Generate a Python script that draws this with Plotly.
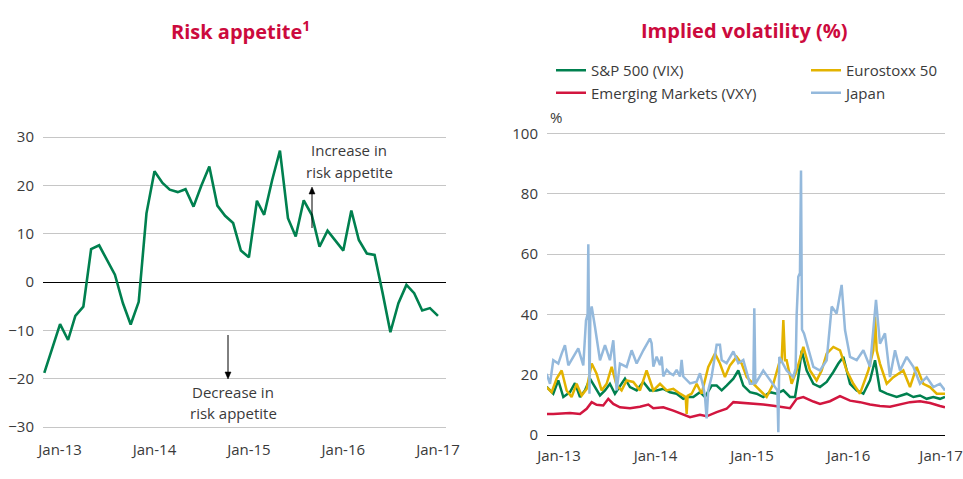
import plotly.graph_objects as go
import pandas as pd

# ---------------- Left chart: risk appetite (monthly) ----------------
risk_start = "2012-11-01"
risk_values = [-18.8, -13.8, -8.7, -12.0, -7.0, -5.1, 6.8, 7.6, 4.7, 1.5, -4.4, -8.8, -4.1,
               14.2, 22.9, 20.5, 19.1, 18.6, 19.2, 15.6, 19.9, 23.9, 15.8, 13.7, 12.2, 6.5,
               5.1, 16.8, 13.9, 21.1, 27.2, 13.2, 9.4, 16.9, 13.9, 7.3, 10.6, 8.7, 6.5, 14.8,
               8.7, 5.9, 5.6, -2.3, -10.4, -4.4, -0.6, -2.3, -5.9, -5.4, -7.0]
risk_dates = pd.date_range(risk_start, periods=len(risk_values), freq="MS")
left_tickvals = ["2013-01-01", "2014-01-01", "2015-01-01", "2016-01-01", "2017-01-01"]
year_ticktext = ["Jan-13", "Jan-14", "Jan-15", "Jan-16", "Jan-17"]
left_yticks = [-30, -20, -10, 0, 10, 20, 30]

# ---------------- Right chart: implied volatility (decimal years) ----------------
vix_x = [2012.872, 2012.941, 2012.993, 2013.045, 2013.114, 2013.166, 2013.218, 2013.269, 2013.321,
         2013.373, 2013.425, 2013.477, 2013.528, 2013.580, 2013.632, 2013.684, 2013.736, 2013.805,
         2013.874, 2013.943, 2014.012, 2014.081, 2014.150, 2014.219, 2014.288, 2014.340, 2014.392,
         2014.461, 2014.513, 2014.582, 2014.634, 2014.686, 2014.737, 2014.807, 2014.858, 2014.910,
         2014.979, 2015.048, 2015.117, 2015.187, 2015.256, 2015.325, 2015.394, 2015.446, 2015.480,
         2015.515, 2015.567, 2015.636, 2015.705, 2015.774, 2015.843, 2015.895, 2015.946, 2016.016,
         2016.085, 2016.154, 2016.223, 2016.275, 2016.326, 2016.396, 2016.499, 2016.603, 2016.672,
         2016.741, 2016.810, 2016.879, 2016.948, 2017.000]
vix_y = [16.0, 13.7, 18.1, 12.6, 14.2, 17.2, 12.6, 14.8, 18.7, 15.9, 13.1, 14.8, 17.0, 13.7, 16.4,
         18.7, 15.9, 14.8, 17.6, 14.8, 14.8, 15.3, 14.2, 13.7, 12.0, 12.6, 12.6, 14.2, 12.6, 16.4,
         16.4, 14.8, 16.4, 18.7, 21.4, 16.4, 14.2, 13.7, 12.6, 14.2, 13.7, 14.8, 12.6, 12.6, 19.2,
         28.0, 21.4, 17.0, 15.9, 17.6, 20.9, 23.7, 25.9, 17.0, 14.8, 13.7, 18.1, 24.8, 14.8, 13.7,
         12.6, 13.7, 12.6, 13.1, 12.0, 12.6, 12.0, 12.6]

em_x = [2012.872, 2012.941, 2013.114, 2013.218, 2013.287, 2013.339, 2013.390, 2013.459, 2013.511,
        2013.563, 2013.632, 2013.736, 2013.839, 2013.926, 2013.978, 2014.081, 2014.185, 2014.288,
        2014.358, 2014.461, 2014.530, 2014.634, 2014.737, 2014.807, 2014.910, 2015.014, 2015.117,
        2015.221, 2015.325, 2015.394, 2015.463, 2015.532, 2015.636, 2015.705, 2015.808, 2015.912,
        2016.016, 2016.119, 2016.223, 2016.326, 2016.430, 2016.534, 2016.637, 2016.741, 2016.845,
        2016.948, 2017.000]
em_y = [7.0, 7.0, 7.3, 7.0, 8.7, 10.9, 10.0, 9.8, 12.0, 10.3, 9.2, 8.9, 9.4, 10.1, 8.9, 9.2, 8.1,
        6.7, 5.9, 6.7, 6.2, 7.6, 8.7, 10.9, 10.7, 10.3, 10.1, 9.7, 9.2, 8.9, 12.0, 12.6, 11.1, 10.3,
        11.2, 12.9, 11.4, 10.9, 10.1, 9.6, 9.4, 10.1, 10.9, 11.2, 10.6, 9.6, 9.2]

stoxx_x = [2012.872, 2012.924, 2012.976, 2013.028, 2013.079, 2013.131, 2013.183, 2013.235, 2013.287,
           2013.339, 2013.390, 2013.442, 2013.494, 2013.546, 2013.598, 2013.649, 2013.701, 2013.770,
           2013.839, 2013.908, 2013.978, 2014.047, 2014.116, 2014.185, 2014.254, 2014.306, 2014.313,
           2014.323, 2014.333, 2014.375, 2014.427, 2014.478, 2014.547, 2014.617, 2014.668, 2014.720,
           2014.772, 2014.841, 2014.893, 2014.945, 2015.014, 2015.083, 2015.152, 2015.221, 2015.290,
           2015.307, 2015.325, 2015.342, 2015.359, 2015.411, 2015.463, 2015.532, 2015.601, 2015.670,
           2015.722, 2015.774, 2015.843, 2015.912, 2015.981, 2016.050, 2016.119, 2016.206, 2016.257,
           2016.275, 2016.292, 2016.326, 2016.396, 2016.465, 2016.568, 2016.637, 2016.706, 2016.775,
           2016.845, 2016.914, 2017.000]
stoxx_y = [15.9, 14.2, 18.7, 21.4, 14.8, 12.6, 17.0, 13.1, 15.3, 23.7, 20.3, 14.8, 17.0, 22.6, 16.4,
           14.8, 18.1, 17.6, 14.8, 21.4, 14.8, 17.0, 14.8, 15.3, 13.7, 12.6, 12.6, 7.0, 13.0, 13.7,
           17.0, 13.7, 22.6, 27.0, 23.7, 19.2, 23.1, 25.9, 23.7, 19.2, 17.0, 14.8, 12.6, 17.0, 24.8,
           24.0, 38.1, 24.8, 24.8, 17.0, 21.4, 29.2, 21.4, 18.1, 21.4, 27.0, 29.2, 28.1, 21.4, 17.0,
           13.7, 21.4, 28.0, 39.2, 28.0, 23.7, 17.0, 19.2, 21.4, 15.9, 22.6, 17.0, 15.9, 13.7, 13.7]

japan_x = [2012.872, 2012.907, 2012.941, 2012.993, 2013.028, 2013.062, 2013.097, 2013.149, 2013.200,
           2013.252, 2013.280, 2013.297, 2013.304, 2013.311, 2013.316, 2013.325, 2013.339, 2013.373,
           2013.425, 2013.477, 2013.528, 2013.563, 2013.598, 2013.632, 2013.701, 2013.753, 2013.805,
           2013.874, 2013.943, 2013.960, 2013.978, 2014.012, 2014.047, 2014.064, 2014.081, 2014.116,
           2014.150, 2014.185, 2014.219, 2014.254, 2014.271, 2014.288, 2014.358, 2014.427, 2014.461,
           2014.496, 2014.513, 2014.530, 2014.547, 2014.582, 2014.617, 2014.634, 2014.668, 2014.686,
           2014.737, 2014.807, 2014.858, 2014.910,
           2014.979, 2015.014, 2015.024, 2015.035, 2015.117, 2015.187, 2015.263, 2015.273, 2015.283,
           2015.359, 2015.428, 2015.452, 2015.463, 2015.480, 2015.497, 2015.508, 2015.518, 2015.539,
           2015.584, 2015.636, 2015.705, 2015.774, 2015.826, 2015.877, 2015.929, 2015.964, 2016.016,
           2016.085, 2016.154, 2016.223, 2016.285, 2016.326, 2016.378, 2016.430, 2016.482, 2016.534,
           2016.603, 2016.672, 2016.741, 2016.810, 2016.879, 2016.948, 2017.000]
japan_y = [20.3, 17.0, 24.8, 23.7, 27.0, 29.8, 23.1, 25.9, 28.7, 23.1, 38.0, 40.0, 63.3, 36.0, 13.7,
           40.0, 42.6, 35.9, 24.8, 29.8, 24.8, 31.4, 14.8, 23.7, 22.6, 28.1, 23.7, 28.1, 32.0, 30.4,
           22.7, 26.0, 23.2, 26.0, 19.4, 21.6, 20.5, 19.9, 21.6, 19.4, 24.9, 19.4, 17.1, 17.7, 20.5,
           16.0, 12.7, 5.5, 14.9, 19.4, 26.0, 29.9, 29.9, 24.9, 23.8, 27.7, 23.8, 24.9,
           17.0, 17.0, 42.0, 17.0, 21.4, 18.1, 14.8, 0.9, 25.9, 21.4, 19.2, 22.0, 40.0, 52.5, 53.7,
           87.7, 35.0, 33.7, 28.1, 22.6, 21.4, 24.8, 42.6, 40.3, 49.8, 34.8, 25.9, 24.8, 28.1, 22.6,
           44.8, 30.3, 33.7, 19.2, 28.1, 21.4, 25.9, 22.6, 17.0, 19.2, 15.9, 17.0, 14.8]

# the last label sits at the right edge of the axis; nudged slightly so it stays on the page
right_tickvals = [2013, 2014, 2015, 2016, 2016.96]
right_yticks = [0, 20, 40, 60, 80, 100]

GREEN = "#00804f"
YELLOW = "#e3b300"
RED = "#d2163f"
BLUE = "#94b9dc"
TITLE_RED = "#cc0a3d"
TXT = "#3a3a3a"
GRID = "#c6c6c6"
FONT = "Open Sans"

fig = go.Figure()

fig.add_trace(go.Scatter(x=risk_dates, y=risk_values, mode="lines",
                         line=dict(color=GREEN, width=2.6), showlegend=False,
                         xaxis="x", yaxis="y"))

fig.add_trace(go.Scatter(x=vix_x, y=vix_y, mode="lines", name="S&P 500 (VIX)",
                         line=dict(color=GREEN, width=2.5), xaxis="x2", yaxis="y2",
                         legend="legend"))
fig.add_trace(go.Scatter(x=em_x, y=em_y, mode="lines", name="Emerging Markets (VXY)",
                         line=dict(color=RED, width=2.5), xaxis="x2", yaxis="y2",
                         legend="legend"))
fig.add_trace(go.Scatter(x=stoxx_x, y=stoxx_y, mode="lines", name="Eurostoxx 50",
                         line=dict(color=YELLOW, width=2.5), xaxis="x2", yaxis="y2",
                         legend="legend2"))
fig.add_trace(go.Scatter(x=japan_x, y=japan_y, mode="lines", name="Japan",
                         line=dict(color=BLUE, width=2.5), xaxis="x2", yaxis="y2",
                         legend="legend2"))

W, H = 963, 479

def px_x(p):
    return p / W

def px_y(p):
    return (H - p) / H

tickfont = dict(family=FONT, size=15, color=TXT)

fig.update_layout(
    width=W, height=H,
    margin=dict(l=0, r=0, t=0, b=0, autoexpand=False),
    paper_bgcolor="white", plot_bgcolor="white",
    font=dict(family=FONT, size=15, color=TXT),
    xaxis=dict(domain=[px_x(43), px_x(446)], type="date",
               range=["2012-10-27", "2017-02-01"],
               tickvals=left_tickvals, ticktext=year_ticktext,
               showgrid=False, zeroline=False, showline=False, ticks="",
               tickfont=tickfont, ticklabelstandoff=11, automargin=False),
    yaxis=dict(domain=[px_y(428.45), px_y(135.55)], range=[-30.3, 30.3],
               tickvals=left_yticks, showgrid=True, gridcolor=GRID, gridwidth=1,
               zeroline=True, zerolinecolor="#000000", zerolinewidth=1,
               showline=False, ticks="", tickfont=tickfont, ticklabelstandoff=8,
               automargin=False),
    xaxis2=dict(domain=[px_x(547), px_x(945)], range=[2012.876, 2017.0],
                tickvals=right_tickvals, ticktext=year_ticktext,
                showgrid=False, zeroline=False, showline=True, linecolor="#000000",
                linewidth=1, ticks="", tickfont=tickfont, ticklabelstandoff=7,
                ticklabeloverflow="allow", anchor="y2", automargin=False),
    yaxis2=dict(domain=[px_y(435), px_y(132)], range=[0, 100.5],
                tickvals=right_yticks, showgrid=True, gridcolor=GRID, gridwidth=1,
                zeroline=False, showline=False, ticks="", tickfont=tickfont,
                ticklabelstandoff=8, anchor="x2", automargin=False),
    legend=dict(x=px_x(551), y=px_y(54), xanchor="left", yanchor="top",
                orientation="v", font=dict(family=FONT, size=15, color=TXT),
                bgcolor="rgba(0,0,0,0)", tracegroupgap=0, itemwidth=30),
    legend2=dict(x=px_x(806), y=px_y(54), xanchor="left", yanchor="top",
                 orientation="v", font=dict(family=FONT, size=15, color=TXT),
                 bgcolor="rgba(0,0,0,0)", tracegroupgap=0, itemwidth=30),
)

annotations = [
    dict(text="<b>Risk appetite<sup>1</sup></b>", x=px_x(240), y=px_y(30),
         font=dict(family=FONT, size=20, color=TITLE_RED)),
    dict(text="<b>Implied volatility (%)</b>", x=px_x(744), y=px_y(30),
         font=dict(family=FONT, size=20, color=TITLE_RED)),
    dict(text="Increase in", x=px_x(349), y=px_y(150), font=dict(family=FONT, size=15, color=TXT)),
    dict(text="risk appetite", x=px_x(349), y=px_y(172), font=dict(family=FONT, size=15, color=TXT)),
    dict(text="Decrease in", x=px_x(233), y=px_y(392), font=dict(family=FONT, size=15, color=TXT)),
    dict(text="risk appetite", x=px_x(233), y=px_y(413), font=dict(family=FONT, size=15, color=TXT)),
    dict(text="%", x=px_x(548), y=px_y(117), xanchor="left",
         font=dict(family=FONT, size=15, color=TXT)),
]
for a in annotations:
    a.update(xref="paper", yref="paper", showarrow=False)
    a.setdefault("xanchor", "center")
    a["yanchor"] = "middle"
    fig.add_annotation(**a)

# arrows drawn as shapes (shaft + triangular head), in paper coordinates
def arrow(xp, y_tail, y_tip):
    d = 1 if y_tip > y_tail else -1   # +1: pointing down the page
    head_base = y_tip - d * 7
    fig.add_shape(type="line", xref="paper", yref="paper",
                  x0=px_x(xp), x1=px_x(xp), y0=px_y(y_tail), y1=px_y(head_base),
                  line=dict(color="#000000", width=1))
    path = (f"M {px_x(xp)},{px_y(y_tip)} L {px_x(xp - 3)},{px_y(head_base)} "
            f"L {px_x(xp + 3)},{px_y(head_base)} Z")
    fig.add_shape(type="path", xref="paper", yref="paper", path=path,
                  fillcolor="#000000", line=dict(color="#000000", width=0.5))

arrow(312, 228, 187)
arrow(228, 335, 379)

fig.write_html("out.html", config={"displayModeBar": False},
               post_script="document.body.style.margin='0';document.body.style.overflow='hidden';")
